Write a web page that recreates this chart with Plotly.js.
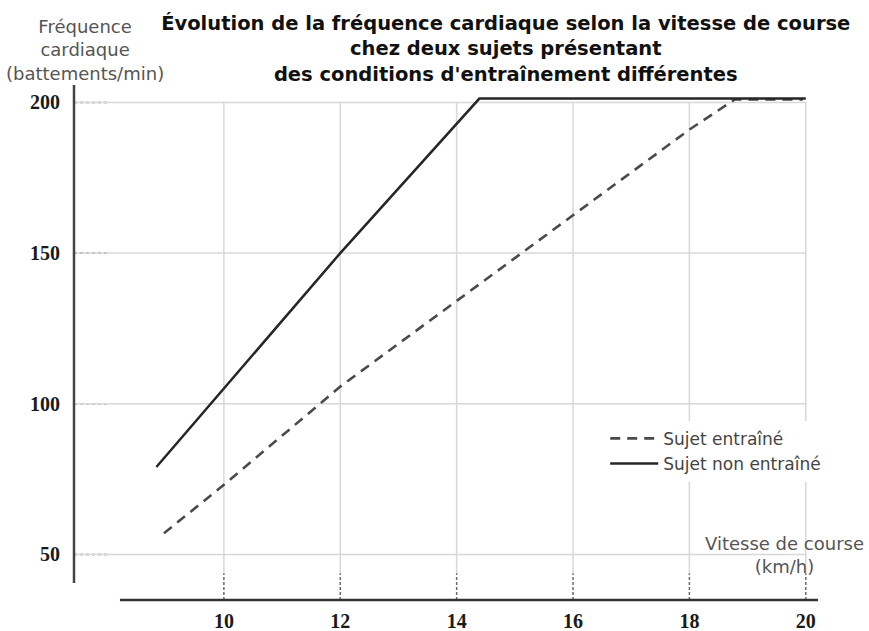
<!DOCTYPE html>
<html>
<head>
<meta charset="utf-8">
<script src="https://cdn.plot.ly/plotly-3.0.1.min.js"></script>
<style>html,body{margin:0;padding:0;background:#fff;}#chart{width:869px;height:631px;}</style>
</head>
<body>
<div id="chart"></div>
<script>
// ---- Data ----
const vitesseEntraine = [8.97, 10, 12, 14, 16, 18, 18.78, 19.95];
const fcEntraine      = [57, 73.1, 105.7, 134.2, 162.4, 191, 201, 201];
const vitesseNonEntraine = [8.84, 12, 14.39, 20.0];
const fcNonEntraine      = [79, 150, 201.3, 201.3];
const nomsSeries = ["Sujet entraîné", "Sujet non entraîné"];
const xTicks = [10, 12, 14, 16, 18, 20];
const xTickLabels = ["10", "12", "14", "16", "18", "20"];
const yTicks = [50, 100, 150, 200];
const yTickLabels = ["50", "100", "150", "200"];
const titreLignes = ["Évolution de la fréquence cardiaque selon la vitesse de course",
                     "chez deux sujets présentant",
                     "des conditions d'entraînement différentes"];
const titreY = ["Fréquence", "cardiaque", "(battements/min)"];
const titreX = ["Vitesse de course", "(km/h)"];

// ---- Layout constants ----
const X_RANGE = [7.424, 20.21];
const Y_RANGE = [34.86, 205.8];
const GRID_BOTTOM = 43.8;

const traces = [
  {x: vitesseEntraine, y: fcEntraine, name: nomsSeries[0], mode: 'lines',
   line: {color: '#4a4a4a', width: 2.6, dash: '10px,7px'}, hoverinfo: 'skip'},
  {x: vitesseNonEntraine, y: fcNonEntraine, name: nomsSeries[1], mode: 'lines',
   line: {color: '#262626', width: 2.5}, hoverinfo: 'skip'}
];

const shapes = [];
xTicks.forEach(v => {
  shapes.push({type:'line', layer:'below', xref:'x', yref:'y', x0:v, x1:v, y0:200, y1:GRID_BOTTOM,
               line:{color:'#d8d8d8', width:1.5}});
  shapes.push({type:'line', layer:'below', xref:'x', yref:'paper', x0:v, x1:v, y0:0, y1:0.052,
               line:{color:'#6a6a6a', width:1.5, dash:'3px,2px'}});
});
yTicks.forEach(v => {
  shapes.push({type:'line', layer:'below', xref:'x', yref:'y', x0:X_RANGE[0], x1:20, y0:v, y1:v,
               line:{color:'#d8d8d8', width:1.5}});
  shapes.push({type:'line', layer:'below', xref:'paper', yref:'y', x0:0, x1:0.048, y0:v, y1:v,
               line:{color:'#6a6a6a', width:1.5, dash:'dot'}});
});
shapes.push({type:'line', xref:'paper', yref:'paper', x0:0, x1:0, y0:0.033, y1:1,
             line:{color:'#444444', width:2.5}});
shapes.push({type:'line', xref:'paper', yref:'paper', x0:0.0618, x1:1, y0:0, y1:0,
             line:{color:'#333333', width:2.5}});

const layout = {
  width: 869, height: 631,
  margin: {l:74, r:51, t:85, b:31, pad:0},
  paper_bgcolor: '#ffffff', plot_bgcolor: '#ffffff',
  showlegend: true,
  title: {text: titreLignes.join('<br>'), xref:'container', yref:'container',
          x: 0.582, xanchor:'center', y: 1 - 30/631, yanchor:'top',
          font: {family:'DejaVu Sans', size:19.5, weight:'bold', color:'#111111'}},
  xaxis: {range: X_RANGE, tickvals: xTicks, ticktext: xTickLabels, showgrid:false, zeroline:false,
          showline:false, ticks:'outside', ticklen:3, tickcolor:'rgba(0,0,0,0)', automargin:false,
          tickfont:{family:'Liberation Serif', size:20, weight:'bold', color:'#1a1a1a'}, fixedrange:true},
  yaxis: {range: Y_RANGE, tickvals: yTicks, ticktext: yTickLabels, showgrid:false, zeroline:false,
          showline:false, ticks:'outside', ticklen:9, tickcolor:'rgba(0,0,0,0)', automargin:false,
          tickfont:{family:'Liberation Serif', size:20, weight:'bold', color:'#1a1a1a'}, fixedrange:true},
  legend: {x: 0.714, y: 0.348, xanchor:'left', yanchor:'top', bgcolor:'#ffffff', borderwidth:0,
           itemwidth: 48, font:{family:'DejaVu Sans', size:17, color:'#444444'}, tracegroupgap:0},
  shapes: shapes,
  annotations: [
    {text: titreY.join('<br>'), xref:'paper', yref:'paper', x:0.0148, y:1.138, xanchor:'center', yanchor:'top',
     showarrow:false, align:'center', font:{family:'DejaVu Sans', size:18, color:'#555555'}},
    {text: titreX.join('<br>'), xref:'paper', yref:'paper', x:0.9556, y:0.0874, xanchor:'center', yanchor:'middle',
     showarrow:false, align:'center', font:{family:'DejaVu Sans', size:18, color:'#555555'}}
  ]
};

Plotly.newPlot('chart', traces, layout, {displayModeBar:false, staticPlot:true});
</script>
</body>
</html>
